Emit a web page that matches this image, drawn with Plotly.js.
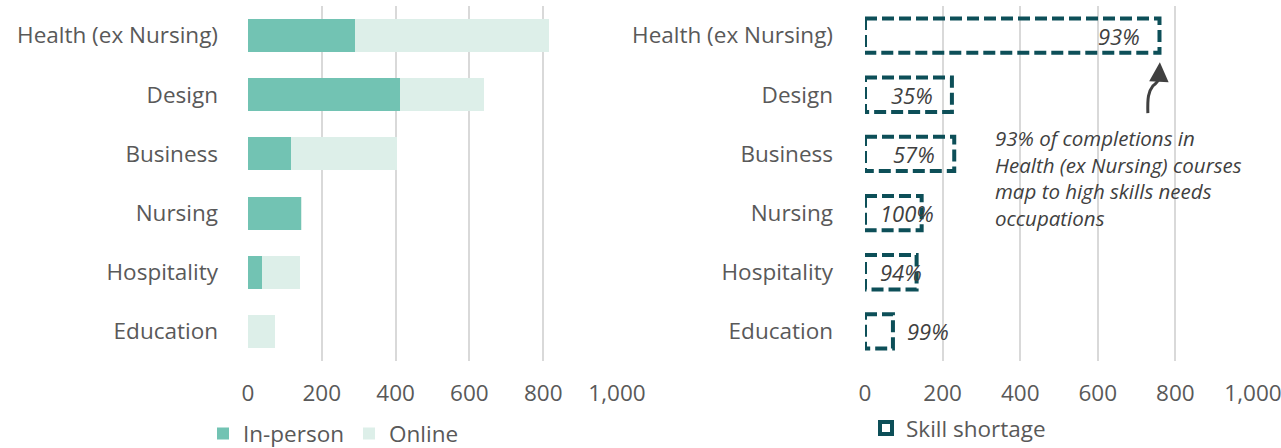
<!DOCTYPE html>
<html>
<head>
<meta charset="utf-8">
<script src="https://cdn.plot.ly/plotly-3.0.1.min.js"></script>
<style>html,body{margin:0;padding:0;background:#fff;}#chart{width:1281px;height:448px;}</style>
</head>
<body>
<div id="chart"></div>
<script>
var categories = ["Health (ex Nursing)", "Design", "Business", "Nursing", "Hospitality", "Education"];
var inPerson = [290, 412, 117, 144, 38, 1];
var online = [526, 228, 287, 2, 103, 72];
var skillShortage = [759, 224, 230, 146, 133, 72];
var shortageLabels = ["93%", "35%", "57%", "100%", "94%", "99%"];
var xTicks = [0, 200, 400, 600, 800, 1000];
var noteText = "93% of completions in<br>Health (ex Nursing) courses<br>map to high skills needs<br>occupations";

var FONT = "Open Sans, Noto Sans, sans-serif";
var GREY = "#595959";
var TEAL_DARK = "#0d4f58";

// dashed rectangles for skill shortage (drawn through x2/y2 scales)
var half = 0.29;
var rx = [], ry = [];
skillShortage.forEach(function(v, i) {
  rx.push(0, v, v, 0, 0, null);
  ry.push(i - half, i - half, i + half, i + half, i - half, null);
});

var traces = [
  {type: "bar", orientation: "h", y: categories, x: inPerson, name: "In-person",
   marker: {color: "#72c3b3"}, xaxis: "x", yaxis: "y", legend: "legend", hoverinfo: "x+y"},
  {type: "bar", orientation: "h", y: categories, x: online, name: "Online",
   marker: {color: "#ddefe9"}, xaxis: "x", yaxis: "y", legend: "legend", hoverinfo: "x+y"},
  {type: "scatter", mode: "lines", x: rx, y: ry, xaxis: "x2", yaxis: "y2", showlegend: false,
   line: {color: TEAL_DARK, width: 4, dash: "12px,5px"}, hoverinfo: "skip", name: "Skill shortage"},
  {type: "scatter", mode: "markers", x: [null], y: [null], xaxis: "x2", yaxis: "y2",
   name: "Skill shortage", legend: "legend2",
   marker: {symbol: "square-open", size: 12, color: TEAL_DARK, line: {width: 4, color: TEAL_DARK}}}
];

var annotations = [];
var pxPerUnit = 0.388;
skillShortage.forEach(function(v, i) {
  var lbl = shortageLabels[i];
  var barPx = v * pxPerUnit;
  var textW = lbl.length * 15.5;
  var a = {xref: "x2", yref: "y2", y: i, text: lbl, showarrow: false,
    font: {family: FONT, size: 22, color: "#404040", style: "italic"}, yanchor: "middle"};
  if (barPx >= textW + 35) { a.x = v; a.xanchor = "right"; a.xshift = -17; }
  else if (barPx >= 45) { a.x = 0; a.xanchor = "left"; a.xshift = 13; }
  else { a.x = v; a.xanchor = "left"; a.xshift = 12; }
  annotations.push(a);
});
annotations.push({xref: "paper", yref: "paper", x: 993/1281, y: 0.672, xanchor: "left", yanchor: "top",
  align: "left", showarrow: false, text: noteText,
  font: {family: FONT, size: 20.5, color: "#404040", style: "italic"}});
annotations.push({xref: "x2", yref: "y2", x: 760, y: 0.45, ax: -1, ay: 20, showarrow: true,
  arrowhead: 2, arrowsize: 1.3, arrowwidth: 3, arrowcolor: "#404040", text: ""});

var axisFont = {family: FONT, size: 22.5, color: GREY};
var layout = {
  width: 1281, height: 448,
  margin: {l: 0, r: 0, t: 6, b: 87, autoexpand: false},
  paper_bgcolor: "#fff", plot_bgcolor: "#fff",
  barmode: "stack", bargap: 0.44,
  font: {family: FONT, color: GREY},
  xaxis: {domain: [248/1281, 617/1281], range: [0, 1000], tickvals: xTicks, tickformat: ",",
    showgrid: true, gridcolor: "#d9d9d9", gridwidth: 2, zeroline: false, showline: false,
    ticks: "", tickfont: axisFont, ticklabelstandoff: 16, ticklabeloverflow: "allow", fixedrange: true},
  yaxis: {type: "category", autorange: "reversed", ticks: "", tickfont: axisFont,
    showgrid: false, zeroline: false, showline: false, ticklabelstandoff: 29},
  xaxis2: {domain: [865/1281, 1253/1281], anchor: "y2", range: [0, 1000], tickvals: xTicks, tickformat: ",",
    showgrid: true, gridcolor: "#d9d9d9", gridwidth: 2, zeroline: false, showline: false,
    ticks: "", tickfont: axisFont, ticklabelstandoff: 16, ticklabeloverflow: "allow"},
  yaxis2: {anchor: "x2", range: [5.5, -0.5], tickvals: [0, 1, 2, 3, 4, 5], ticktext: categories,
    ticks: "", tickfont: axisFont, showgrid: false, zeroline: false, showline: false, ticklabelstandoff: 31},
  legend: {orientation: "h", x: 203/1281, y: -0.205, xanchor: "left", yanchor: "middle",
    font: {family: FONT, size: 22.5, color: GREY}, bgcolor: "rgba(0,0,0,0)", traceorder: "normal"},
  legend2: {orientation: "h", x: 866/1281, y: -0.19, xanchor: "left", yanchor: "middle",
    font: {family: FONT, size: 22.5, color: GREY}, bgcolor: "rgba(0,0,0,0)"},
  shapes: [{type: "path", xref: "x2", yref: "y2",
    path: "M 729,1.31 C 728,1.05 730,0.95 742,0.85 C 756,0.78 758,0.74 759,0.7",
    line: {color: "#404040", width: 3}}],
  annotations: annotations,
  showlegend: true
};

Plotly.newPlot("chart", traces, layout, {displayModeBar: false, staticPlot: true});
</script>
</body>
</html>
